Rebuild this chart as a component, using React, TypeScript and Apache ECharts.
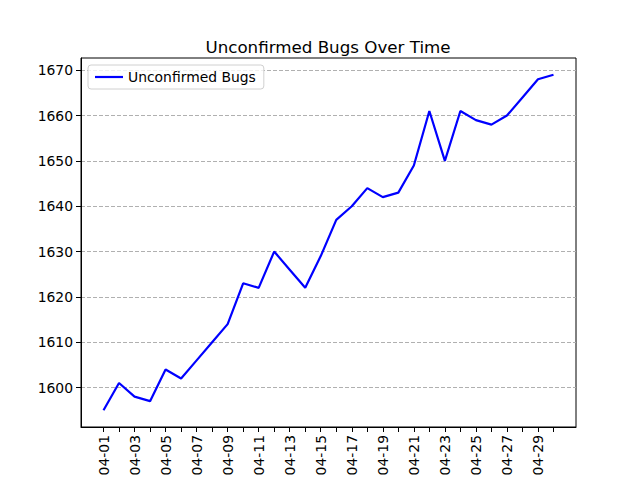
import React, { useEffect, useRef } from "react";
import * as echarts from "echarts";

const dates = [
  "04-01", "04-02", "04-03", "04-04", "04-05", "04-06", "04-07", "04-08", "04-09", "04-10",
  "04-11", "04-12", "04-13", "04-14", "04-15", "04-16", "04-17", "04-18", "04-19", "04-20",
  "04-21", "04-22", "04-23", "04-24", "04-25", "04-26", "04-27", "04-28", "04-29", "04-30",
];
const unconfirmedBugs = [
  1595, 1601, 1598, 1597, 1604, 1602, 1606, 1610, 1614, 1623,
  1622, 1630, 1626, 1622, 1629, 1637, 1640, 1644, 1642, 1643,
  1649, 1661, 1650, 1661, 1659, 1658, 1660, 1664, 1668, 1669,
];
const yTicks = [1600, 1610, 1620, 1630, 1640, 1650, 1660, 1670];

export default function App() {
  const ref = useRef<HTMLDivElement>(null);
  useEffect(() => {
    if (!ref.current) return;
    const chart = echarts.init(ref.current, null, { renderer: "svg" });
    const n = dates.length;
    const pad = (n - 1) * 0.05;
    const ymin = Math.min(...unconfirmedBugs);
    const ymax = Math.max(...unconfirmedBugs);
    const ypad = (ymax - ymin) * 0.05;
    const font = "DejaVu Sans";
    chart.setOption({
      animation: false,
      backgroundColor: "#ffffff",
      title: {
        text: "Unconfirmed Bugs Over Time",
        left: 323,
        top: 33,
        textAlign: "center",
        textStyle: { fontFamily: font, fontSize: 16.7, fontWeight: "normal", color: "#000" },
      },
      legend: {
        left: 88,
        top: 65,
        orient: "vertical",
        icon: "rect",
        itemWidth: 28,
        itemHeight: 2.2,
        itemGap: 8,
        padding: [5, 8, 5, 7],
        borderColor: "#d0d0d0",
        borderWidth: 1,
        borderRadius: 3,
        backgroundColor: "rgba(255,255,255,0.8)",
        textStyle: { fontFamily: font, fontSize: 13.9, color: "#000" },
        data: ["Unconfirmed Bugs"],
      },
      grid: {
        left: 81,
        right: 64,
        top: 58,
        bottom: 53,
        show: true,
        borderColor: "#000",
        borderWidth: 1,
        backgroundColor: "transparent",
      },
      xAxis: {
        type: "value",
        min: -pad,
        max: n - 1 + pad,
        axisLine: { show: true, onZero: false, lineStyle: { color: "#000", width: 1 } },
        axisTick: {
          show: true,
          length: 5,
          lineStyle: { color: "#000" },
          customValues: dates.map((_, i) => i),
        },
        axisLabel: {
          rotate: 90,
          margin: 8,
          fontFamily: font,
          fontSize: 13.9,
          color: "#000",
          customValues: dates.map((_, i) => i).filter((i) => i % 2 === 0),
          formatter: (v: number) => dates[Math.round(v)] ?? "",
        },
        splitLine: { show: false },
      },
      yAxis: {
        type: "value",
        min: ymin - ypad,
        max: ymax + ypad,
        axisLine: { show: true, onZero: false, lineStyle: { color: "#000", width: 1 } },
        axisTick: {
          show: true,
          length: 5,
          lineStyle: { color: "#000" },
          customValues: yTicks,
        },
        axisLabel: {
          margin: 8,
          fontFamily: font,
          fontSize: 13.9,
          color: "#000",
          customValues: yTicks,
          formatter: (v: number) => String(Math.round(v)),
        },
        splitLine: {
          show: true,
          lineStyle: { color: "#b0b0b0", type: [4, 2], width: 1 },
        },
      },
      series: [
        {
          name: "Unconfirmed Bugs",
          type: "line",
          data: unconfirmedBugs.map((v, i) => [i, v]),
          showSymbol: false,
          symbol: "none",
          lineStyle: { color: "#0000ff", width: 2.2 },
          itemStyle: { color: "#0000ff" },
        },
      ],
    });
    return () => chart.dispose();
  }, []);
  return <div ref={ref} style={{ width: 640, height: 480, position: "absolute", left: 0, top: 0 }} />;
}
